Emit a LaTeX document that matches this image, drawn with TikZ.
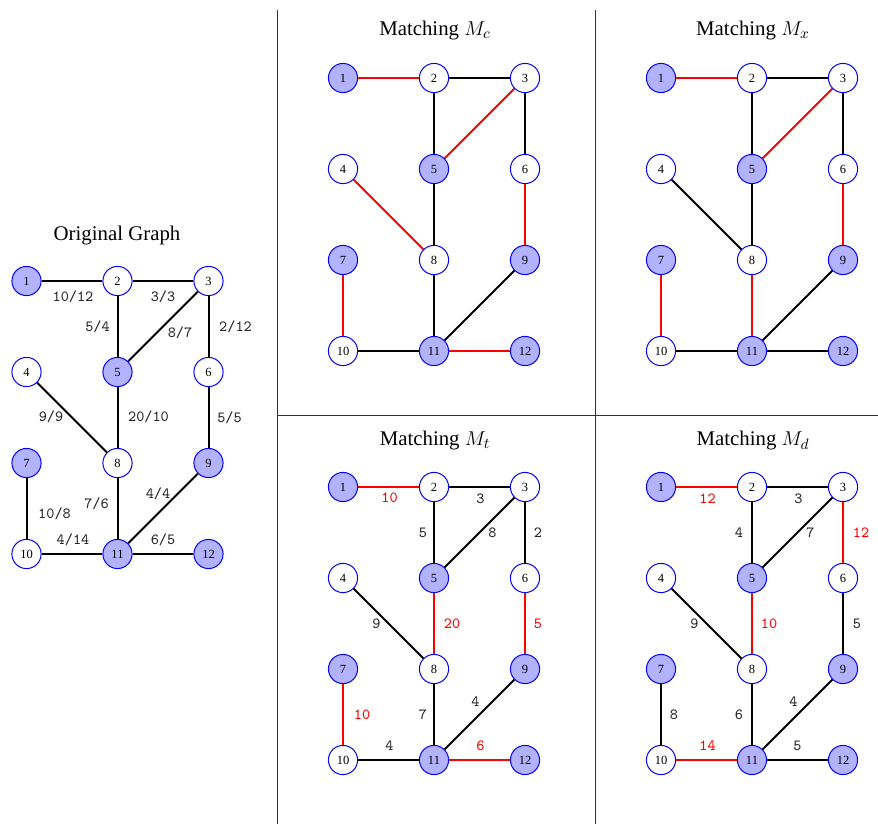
\documentclass[tikz,border=0pt]{standalone}
\usepackage{fontspec}
\setmainfont{Liberation Serif}
\newcommand\vtxfont{\fontsize{7.5}{8}\selectfont}
\newcommand\lblfont{\ttfamily\fontsize{9.3}{10}\selectfont}
\newcommand\ttlfont{\fontsize{12.5}{14}\selectfont}
% twelve vertices on a 3x4 grid, named <prefix>-<n>
\newcommand\gridvertices[1]{%
  \node[sel] (#1-1)  at (0,0)     {1};
  \node[vtx] (#1-2)  at (91,0)    {2};
  \node[vtx] (#1-3)  at (182,0)   {3};
  \node[vtx] (#1-4)  at (0,91)    {4};
  \node[sel] (#1-5)  at (91,91)   {5};
  \node[vtx] (#1-6)  at (182,91)  {6};
  \node[sel] (#1-7)  at (0,182)   {7};
  \node[vtx] (#1-8)  at (91,182)  {8};
  \node[sel] (#1-9)  at (182,182) {9};
  \node[vtx] (#1-10) at (0,273)   {10};
  \node[sel] (#1-11) at (91,273)  {11};
  \node[sel] (#1-12) at (182,273) {12};
}
\tikzset{
  vtx/.style={circle, draw=blue, line width=0.6pt, fill=white, minimum size=17.5pt,
              inner sep=0pt, font=\vtxfont},
  sel/.style={vtx, fill=blue!30},
  ed/.style={line width=1.2pt, draw=black},
  med/.style={line width=1.2pt, draw=red},
  wl/.style={font=\lblfont, text=black!85, inner sep=0pt},
  rwl/.style={font=\lblfont, text=red, inner sep=0pt},
  ttl/.style={font=\ttlfont},
  divider/.style={line width=0.6pt, draw=black!80}
}
\begin{document}
\begin{tikzpicture}[x=0.6pt, y=-0.6pt]
\useasboundingbox (0,0) rectangle (878,824);

% panel dividers
\coordinate (v1t) at (277,10);  \coordinate (v1b) at (277,824);
\coordinate (v2t) at (595,10);  \coordinate (v2b) at (595,824);
\coordinate (hl)  at (277,415); \coordinate (hr)  at (878,415);
\draw[divider] (v1t) -- (v1b);
\draw[divider] (v2t) -- (v2b);
\draw[divider] (hl) -- (hr);

% original graph with both weights
\node[ttl] (t-o) at (117,236) {Original Graph};
\begin{scope}[shift={(26.5,281)}]
  \gridvertices{o}
  \draw[ed] (o-1) -- (o-2)   node[wl, midway, shift={(1,16)}]   {10/12};
  \draw[ed] (o-2) -- (o-3)   node[wl, midway, shift={(0,16)}]   {3/3};
  \draw[ed] (o-2) -- (o-5)   node[wl, midway, shift={(-20,0)}]  {5/4};
  \draw[ed] (o-3) -- (o-5)   node[wl, midway, shift={(17,6)}]   {8/7};
  \draw[ed] (o-3) -- (o-6)   node[wl, midway, shift={(27,0)}]   {2/12};
  \draw[ed] (o-4) -- (o-8)   node[wl, midway, shift={(-21,-1)}] {9/9};
  \draw[ed] (o-5) -- (o-8)   node[wl, midway, shift={(31,-1)}]  {20/10};
  \draw[ed] (o-6) -- (o-9)   node[wl, midway, shift={(21,0)}]   {5/5};
  \draw[ed] (o-7) -- (o-10)  node[wl, midway, shift={(28,5)}]   {10/8};
  \draw[ed] (o-8) -- (o-11)  node[wl, midway, shift={(-21,-5)}] {7/6};
  \draw[ed] (o-9) -- (o-11)  node[wl, midway, shift={(-5,-15)}] {4/4};
  \draw[ed] (o-10) -- (o-11) node[wl, midway, shift={(1,-14)}]  {4/14};
  \draw[ed] (o-11) -- (o-12) node[wl, midway, shift={(0,-14)}]  {6/5};
\end{scope}

% matching M_c
\node[ttl] (t-c) at (435,31) {Matching $M_c$};
\begin{scope}[shift={(343,78)}]
  \gridvertices{c}
  \draw[med] (c-1) -- (c-2);
  \draw[ed]  (c-2) -- (c-3);
  \draw[ed]  (c-2) -- (c-5);
  \draw[med] (c-3) -- (c-5);
  \draw[ed]  (c-3) -- (c-6);
  \draw[med] (c-4) -- (c-8);
  \draw[ed]  (c-5) -- (c-8);
  \draw[med] (c-6) -- (c-9);
  \draw[med] (c-7) -- (c-10);
  \draw[ed]  (c-8) -- (c-11);
  \draw[ed]  (c-9) -- (c-11);
  \draw[ed]  (c-10) -- (c-11);
  \draw[med] (c-11) -- (c-12);
\end{scope}

% matching M_x
\node[ttl] (t-x) at (753,31) {Matching $M_x$};
\begin{scope}[shift={(661,78)}]
  \gridvertices{x}
  \draw[med] (x-1) -- (x-2);
  \draw[ed]  (x-2) -- (x-3);
  \draw[ed]  (x-2) -- (x-5);
  \draw[med] (x-3) -- (x-5);
  \draw[ed]  (x-3) -- (x-6);
  \draw[ed]  (x-4) -- (x-8);
  \draw[ed]  (x-5) -- (x-8);
  \draw[med] (x-6) -- (x-9);
  \draw[med] (x-7) -- (x-10);
  \draw[med] (x-8) -- (x-11);
  \draw[ed]  (x-9) -- (x-11);
  \draw[ed]  (x-10) -- (x-11);
  \draw[ed]  (x-11) -- (x-12);
\end{scope}

% matching M_t with first weights
\node[ttl] (t-t) at (435,441) {Matching $M_t$};
\begin{scope}[shift={(343,487)}]
  \gridvertices{t}
  \draw[med] (t-1) -- (t-2)   node[rwl, midway, shift={(1,11)}]   {10};
  \draw[ed]  (t-2) -- (t-3)   node[wl,  midway, shift={(1,12)}]   {3};
  \draw[ed]  (t-2) -- (t-5)   node[wl,  midway, shift={(-11,0)}]  {5};
  \draw[ed]  (t-3) -- (t-5)   node[wl,  midway, shift={(13,0)}]   {8};
  \draw[ed]  (t-3) -- (t-6)   node[wl,  midway, shift={(13,0)}]   {2};
  \draw[ed]  (t-4) -- (t-8)   node[wl,  midway, shift={(-12,0)}]  {9};
  \draw[med] (t-5) -- (t-8)   node[rwl, midway, shift={(18,0)}]   {20};
  \draw[med] (t-6) -- (t-9)   node[rwl, midway, shift={(13,0)}]   {5};
  \draw[med] (t-7) -- (t-10)  node[rwl, midway, shift={(19,0)}]   {10};
  \draw[ed]  (t-8) -- (t-11)  node[wl,  midway, shift={(-11,0)}]  {7};
  \draw[ed]  (t-9) -- (t-11)  node[wl,  midway, shift={(-4,-13)}] {4};
  \draw[ed]  (t-10) -- (t-11) node[wl,  midway, shift={(1,-14)}]  {4};
  \draw[med] (t-11) -- (t-12) node[rwl, midway, shift={(1,-14)}]  {6};
\end{scope}

% matching M_d with second weights
\node[ttl] (t-d) at (753,441) {Matching $M_d$};
\begin{scope}[shift={(661,487)}]
  \gridvertices{d}
  \draw[med] (d-1) -- (d-2)   node[rwl, midway, shift={(1,12)}]   {12};
  \draw[ed]  (d-2) -- (d-3)   node[wl,  midway, shift={(1,12)}]   {3};
  \draw[ed]  (d-2) -- (d-5)   node[wl,  midway, shift={(-13,0)}]  {4};
  \draw[ed]  (d-3) -- (d-5)   node[wl,  midway, shift={(13,0)}]   {7};
  \draw[med] (d-3) -- (d-6)   node[rwl, midway, shift={(18,0)}]   {12};
  \draw[ed]  (d-4) -- (d-8)   node[wl,  midway, shift={(-12,0)}]  {9};
  \draw[med] (d-5) -- (d-8)   node[rwl, midway, shift={(17,0)}]   {10};
  \draw[ed]  (d-6) -- (d-9)   node[wl,  midway, shift={(14,0)}]   {5};
  \draw[ed]  (d-7) -- (d-10)  node[wl,  midway, shift={(13,0)}]   {8};
  \draw[ed]  (d-8) -- (d-11)  node[wl,  midway, shift={(-13,0)}]  {6};
  \draw[ed]  (d-9) -- (d-11)  node[wl,  midway, shift={(-4,-13)}] {4};
  \draw[med] (d-10) -- (d-11) node[rwl, midway, shift={(1,-14)}]  {14};
  \draw[ed]  (d-11) -- (d-12) node[wl,  midway, shift={(0,-14)}]  {5};
\end{scope}
\end{tikzpicture}
\end{document}
